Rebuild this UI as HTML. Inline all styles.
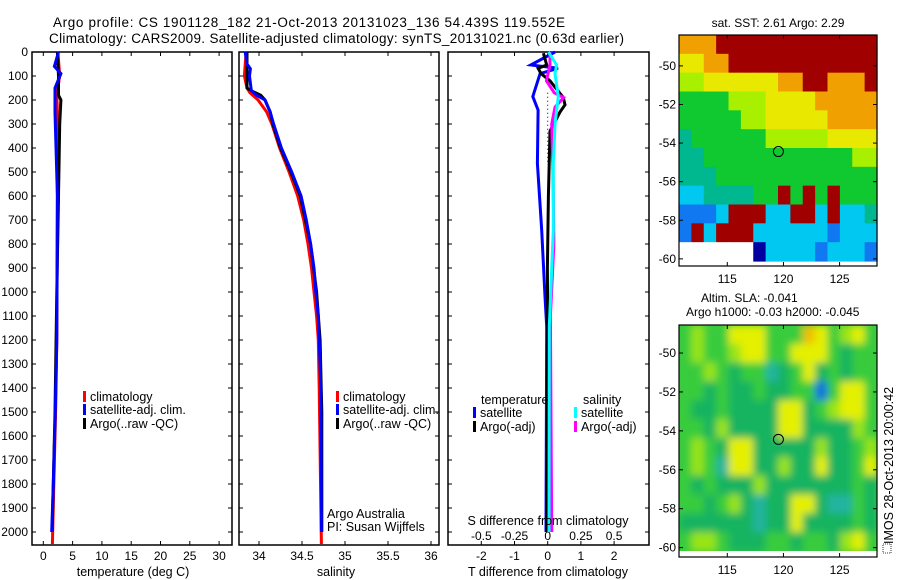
<!DOCTYPE html>
<html><head><meta charset="utf-8"><style>
html,body{margin:0;padding:0;background:#fff}
svg{display:block;font-family:"Liberation Sans",sans-serif}
</style></head><body>
<svg id="fig" width="900" height="580" viewBox="0 0 900 580">
<defs>
<filter id="blur" x="-5%" y="-5%" width="110%" height="110%"><feGaussianBlur stdDeviation="4"/></filter>
<clipPath id="slaclip"><rect x="679" y="325" width="198" height="226"/></clipPath>
</defs>
<text x="53" y="27" font-size="13.5" textLength="512">Argo profile: CS 1901128_182 21-Oct-2013 20131023_136 54.439S 119.552E</text>
<text x="49" y="43" font-size="13.5" textLength="575">Climatology: CARS2009. Satellite-adjusted climatology: synTS_20131021.nc (0.63d earlier)</text>
<g id="g"></g>
</svg>
<script>
// ---------- data ----------
const tDepth = [0,60,90,150,250,600,1200,1500,1800,2000];
const tSat   = [2.6,1.9,3.0,2.0,2.0,2.4,2.3,2.05,1.7,1.43];
const tClimDepth = [0,100,180,250,600,1200,1500,1800,2050];
const tClim  = [2.5,2.8,2.3,2.4,2.4,2.3,2.1,1.8,1.55];
const tArgoDepth = [0,100,180,200,300,600,1000,1500,1900,2000];
const tArgo  = [2.4,2.6,2.6,3.0,2.8,2.6,2.3,2.0,1.6,1.5];

const sSatDepth = [0,50,70,100,160,180,200,250,300,400,500,600,700,800,900,1000,1100,1200,1400,2000];
const sSat = [33.84,33.86,33.90,33.89,33.91,33.97,34.07,34.13,34.17,34.26,34.38,34.49,34.55,34.60,34.64,34.66,34.69,34.70,34.72,34.725];
const sClimDepth = [0,100,150,170,200,250,300,400,500,600,700,800,900,1000,1100,1200,1400,2050];
const sClim = [33.85,33.83,33.86,33.895,33.99,34.09,34.15,34.24,34.35,34.45,34.52,34.57,34.61,34.64,34.67,34.69,34.70,34.725];
const sArgoDepth = [0,150,165,180,200,250,300,400,500,600,800,1000,1200,1500,2000];
const sArgo = [33.86,33.86,33.93,34.02,34.07,34.13,34.16,34.25,34.37,34.48,34.60,34.67,34.71,34.73,34.73];

const dTDepth = [0,54,68,90,186,242,464,742,1019,1143,2000];
const dTSat = [0.22,-0.51,0.31,-0.23,-0.45,-0.29,-0.31,-0.18,-0.08,-0.03,-0.05];
const dTArgoDepth = [5,54,68,90,120,190,220,250,330,600,900,1143,2000];
const dTArgo = [-0.13,-0.03,-0.29,-0.2,0.07,0.47,0.52,0.37,0.07,0.02,-0.01,0,-0.02];
const dSDepth = [0,54,90,186,300,464,742,1143,2000];
const dSSat = [0.005,0.067,0.055,0.08,0.055,0.042,0.042,0.012,0.01];
const dSArgoDepth = [0,54,120,170,190,230,300,500,800,1100,2000];
const dSArgo = [0.017,0.017,-0.01,0.05,0.12,0.055,0.03,0.04,0.047,0.02,0.03];

const depthTicks = [0,100,200,300,400,500,600,700,800,900,1000,1100,1200,1300,1400,1500,1600,1700,1800,1900,2000];
const tempTicks = [0,5,10,15,20,25,30];
const salTicks = [34,34.5,35,35.5,36];
const salTickLabels = ["34","34.5","35","35.5","36"];
const dTTicks = [-2,-1,0,1,2];
const dSTickLabels = ["-0.5","-0.25","0","0.25","0.5"];
const latTicks = [-50,-52,-54,-56,-58,-60];
const lonTicks = [115,120,125];

const sstGrid = [
"OOORRRRRRRRRRRRR",
"YYOORRRRRRRRRRRR",
"LLYYYYYYOORROOOR",
"GGGGLLLYYYYOOOOO",
"GGGGGLLYYYYYOOOO",
"TGGGGGGLLLLLYYYY",
"TTGGGGGGGGGGGGLL",
"TTTGGGGGGGGGGGGG",
"CCTTTTGGRGRGRGGG",
"BBBCRRRCCRRCRCCT",
"BRCRRRCCCCCCBCCC",
"WWWWWWDCCCCBCCCB"];
const slaGrid = [
"GLGGYYYGGGOYGLYG",
"GLGGLYYGGYYYGMGG",
"GGLGMGGTMGYMGMGG",
"GGMGMMGMMGGBGYYG",
"GMMGMMMMYYMGLYYG",
"GGMLMMMMYYMMMMLG",
"GLGMYYMMMMMLMMGL",
"GLGTYYMMLMMYMMGY",
"GMGMMMLMMMMMMMGM",
"GGMGLMTMMYYMTTGM",
"MMMMMMTMMYMMMMGM",
"GLLGMMMGGMGGMLYG"];
const argoLon = 119.552, argoLat = -54.439;

// ---------- helpers ----------
const NS="http://www.w3.org/2000/svg";
const G=document.getElementById('g');
function mk(tag,attrs,parent){const e=document.createElementNS(NS,tag);for(const k in attrs)e.setAttribute(k,attrs[k]);(parent||G).appendChild(e);return e;}
function txt(x,y,s,size,anchor,parent){const e=mk('text',{x:x,y:y,'font-size':size,'text-anchor':anchor||'start'},parent);e.textContent=s;return e;}

const yD = d => 52 + d*0.24;
const P1={x0:32,x1:232}, P2={x0:239,x1:439}, P3={x0:448,x1:649};
const xT = v => 43.3 + 5.86*v;
const xS = v => 259 + 86*(v-34);
const xDT = v => 547.7 + 33.2*v;
const xDS = v => 547.7 + 132.8*v;

function frame(P,name){
  const r=mk('rect',{x:P.x0,y:52,width:P.x1-P.x0,height:493,fill:'none',stroke:'#000','stroke-width':1.5});
  
  
  depthTicks.forEach(d=>{
    mk('line',{x1:P.x0,x2:P.x0+4,y1:yD(d),y2:yD(d),stroke:'#000'});
    mk('line',{x1:P.x1,x2:P.x1-4,y1:yD(d),y2:yD(d),stroke:'#000'});
  });
}
function xticks(xs,fx){xs.forEach(v=>{const x=fx(v);mk('line',{x1:x,x2:x,y1:52,y2:56,stroke:'#000'});mk('line',{x1:x,x2:x,y1:545,y2:541,stroke:'#000'});});}
function line(ds,vs,fx,color,name){
  const pts=ds.map((d,i)=>fx(vs[i]).toFixed(1)+','+yD(d).toFixed(1)).join(' ');
  const p=mk('polyline',{points:pts,fill:'none',stroke:color,'stroke-width':3,'stroke-linejoin':'miter'});
  
  
}
function legend(x,y,color,label,name){
  const r=mk('rect',{x:x,y:y-9,width:3,height:11,fill:color});
  
  
  const t=txt(x+7,y+1,label,12.5);
  
  
}

// ---------- panel 1 ----------
frame(P1,'temperature-panel');
xticks(tempTicks,xT);
depthTicks.forEach(d=>{const t=txt(28,yD(d)+4,String(d),12,'end');});
tempTicks.forEach(v=>{const t=txt(xT(v),560,String(v),12,'middle');});
{const t=txt(133,576,'temperature (deg C)',12.5,'middle');}
line(tClimDepth,tClim,xT,'#f00','temperature-climatology-line');
line(tArgoDepth,tArgo,xT,'#000','temperature-argo-line');
line(tDepth,tSat,xT,'#00f','temperature-satellite-line');
legend(83,400,'#f00','climatology','legend-climatology');
legend(83,413,'#00f','satellite-adj. clim.','legend-satellite');
legend(83,427,'#000','Argo(..raw -QC)','legend-argo');

// ---------- panel 2 ----------
frame(P2,'salinity-panel');
xticks(salTicks,xS);
salTicks.forEach((v,i)=>{const t=txt(xS(v),560,salTickLabels[i],12,'middle');});
{const t=txt(336,576,'salinity',12.5,'middle');}
line(sClimDepth,sClim,xS,'#f00','salinity-climatology-line');
line(sArgoDepth,sArgo,xS,'#000','salinity-argo-line');
line(sSatDepth,sSat,xS,'#00f','salinity-satellite-line');
legend(336,400,'#f00','climatology','legend-climatology-2');
legend(336,413,'#00f','satellite-adj. clim.','legend-satellite-2');
legend(336,427,'#000','Argo(..raw -QC)','legend-argo-2');
{const t=txt(327,518,'Argo Australia',12.5);}
{const t=txt(327,531,'PI: Susan Wijffels',12.5);}

// ---------- panel 3 ----------
frame(P3,'difference-panel');
xticks(dTTicks,xDT);
mk('line',{x1:xDT(0),x2:xDT(0),y1:yD(170),y2:yD(460),stroke:'#000','stroke-dasharray':'1,3'});
dTTicks.forEach(v=>{const t=txt(xDT(v),560,String(v),12,'middle');});
dSTickLabels.forEach((s,i)=>{const t=txt(xDT(dTTicks[i]),540,s,12,'middle');});
line(dTDepth,dTSat,xDT,'#00f','t-diff-satellite-line');
line(dTArgoDepth,dTArgo,xDT,'#000','t-diff-argo-line');
line(dSArgoDepth,dSArgo,xDS,'#f0f','s-diff-argo-line');
line(dSDepth,dSSat,xDS,'#0ff','s-diff-satellite-line');
{const t=txt(548,525,'S difference from climatology',12.5,'middle');}
{const t=txt(548,576,'T difference from climatology',12.5,'middle');}
{const t=txt(481,404,'temperature',12.5);}
{const t=txt(583,404,'salinity',12.5);}
legend(473,416,'#00f','satellite','legend-t-satellite');
legend(473,430,'#000','Argo(-adj)','legend-t-argo');
legend(574,416,'#0ff','satellite','legend-s-satellite');
legend(574,430,'#f0f','Argo(-adj)','legend-s-argo');

// ---------- maps ----------
const sstCol={R:'#a00000',O:'#f0a000',Y:'#e8e800',L:'#a8f000',G:'#10c830',T:'#00b890',C:'#00c8f0',B:'#1078f0',D:'#0000a0',W:'#ffffff'};
const slaCol={G:'#38cc3c',M:'#18b460',L:'#98e418',Y:'#e4f000',O:'#f0c000',T:'#20b4a0',B:'#1070e0'};
function map(M){
  const lx = v => M.x0 + (v-110.7)*11.23;
  const ly = v => M.y0 + (M.lat0 - v)*M.ppd;
  const rows=M.grid.length, cols=M.grid[0].length;
  const cw=(M.x1-M.x0)/cols, ch=(M.yb-M.y0)/rows;
  let parent=G;
  if(M.smooth){
    const outer=mk('g',{'clip-path':'url(#slaclip)'});
    mk('rect',{x:M.x0,y:M.y0,width:M.x1-M.x0,height:M.yb-M.y0,fill:M.col.G},outer);
    parent=mk('g',{filter:'url(#blur)'},outer);
  }
  M.grid.forEach((row,r)=>{for(let c=0;c<cols;c++){
    const cell=mk('rect',{x:(M.x0+c*cw).toFixed(2),y:(M.y0+r*ch).toFixed(2),width:(cw+0.6).toFixed(2),height:(ch+0.6).toFixed(2),fill:M.col[row[c]]},parent);
    
    
  }});
  const fr=mk('rect',{x:M.x0,y:M.y0,width:M.x1-M.x0,height:M.y1-M.y0,fill:'none',stroke:'#000','stroke-width':1.2});
  
  
  latTicks.forEach(v=>{const y=ly(v);
    mk('line',{x1:M.x0,x2:M.x0+4,y1:y,y2:y,stroke:'#000'});mk('line',{x1:M.x1,x2:M.x1-4,y1:y,y2:y,stroke:'#000'});
    const t=txt(M.x0-3,y+4,String(v),12,'end');});
  lonTicks.forEach(v=>{const x=lx(v);
    mk('line',{x1:x,x2:x,y1:M.y0,y2:M.y0+4,stroke:'#000'});mk('line',{x1:x,x2:x,y1:M.y1,y2:M.y1-4,stroke:'#000'});
    const t=txt(x,M.y1+17,String(v),12,'middle');});
  const c=mk('circle',{cx:lx(argoLon),cy:ly(argoLat),r:5,fill:'none',stroke:'#000','stroke-width':1});
  
  
}
map({x0:679,x1:877,y0:35,y1:266,yb:261,lat0:-48.4,ppd:19.3,grid:sstGrid,col:sstCol,name:'sst-map',smooth:false});
map({x0:679,x1:877,y0:325,y1:557,yb:551,lat0:-48.56,ppd:19.46,grid:slaGrid,col:slaCol,name:'sla-map',smooth:true});
{const t=txt(778,27,'sat. SST: 2.61  Argo: 2.29',12,'middle');}
{const t=txt(701,302,'Altim. SLA: -0.041',12);}
{const t=txt(686,316,'Argo h1000: -0.03 h2000: -0.045',12);}
{const t=txt(0,0,'IMOS 28-Oct-2013 20:00:42',12.5);t.setAttribute('transform','translate(893,544) rotate(-90)');}
{const r=mk('rect',{x:883,y:544,width:8,height:9,fill:'none',stroke:'#000','stroke-width':0.8,'stroke-dasharray':'1,1'});}
</script>
</body></html>
